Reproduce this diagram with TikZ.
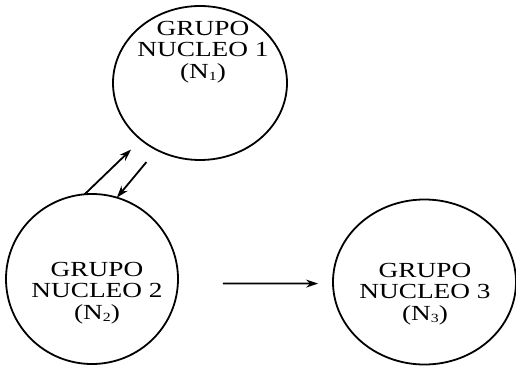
\documentclass[tikz,border=0pt]{standalone}
\usepackage{fontspec}
\setmainfont{Liberation Serif}[FakeStretch=1.27]
\usetikzlibrary{shapes.geometric,arrows.meta}
\newcommand{\nsub}[1]{\raisebox{-0.15ex}{\fontsize{12.5}{12.5}\selectfont #1}}
\tikzset{
  grupo/.style={ellipse,draw,line width=1.8pt,inner sep=0pt,outer sep=0pt},
  rotulo/.style={align=center,font=\fontsize{21.5}{21.7}\selectfont,inner sep=0pt},
  flecha/.style={line width=1.8pt,-{Stealth[length=12pt,width=8pt]}}
}
\begin{document}
\begin{tikzpicture}[x=1pt,y=-1pt]
  \useasboundingbox (0,0) rectangle (516,366);
  % the three groups
  \node[grupo,minimum width=174pt,minimum height=154pt] (n1) at (200,83) {};
  \node[grupo,minimum width=172pt,minimum height=170pt] (n2) at (92,279) {};
  \node[grupo,minimum width=183pt,minimum height=165pt] (n3) at (424.5,282) {};
  % labels
  \node[rotulo] (t1) at (203,52) {GRUPO\\NUCLEO 1\\(N\nsub{1})};
  \node[rotulo] (t2) at (97,293) {GRUPO\\NUCLEO 2\\(N\nsub{2})};
  \node[rotulo] (t3) at (425,294) {GRUPO\\NUCLEO 3\\(N\nsub{3})};
  % connectors
  \draw[flecha,shorten >=14pt] (n2.95) -- (n1.224);
  \draw[flecha,shorten <=16pt] (n1.237) -- (n2.73);
  \draw[flecha,shorten <=45pt,shorten >=15pt] (n2.-3) -- (n3.181);
\end{tikzpicture}
\end{document}
